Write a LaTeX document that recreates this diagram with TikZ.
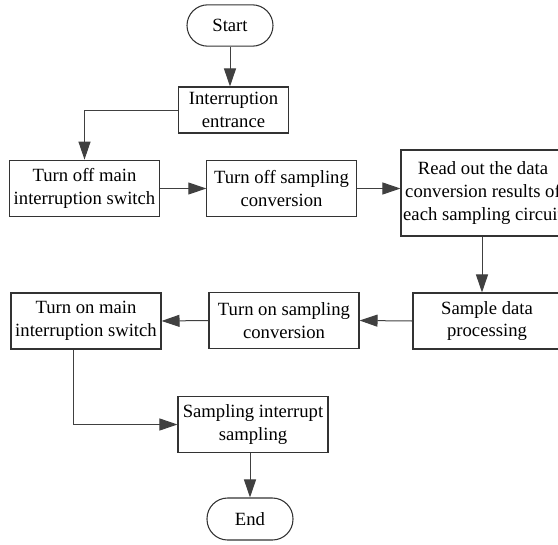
\documentclass[tikz,border=0pt]{standalone}
\usepackage{fontspec}
\setmainfont{Liberation Serif}
\usetikzlibrary{arrows.meta,calc}
\begin{document}
\begin{tikzpicture}[x=0.75pt,y=-0.75pt,
  box/.style={draw=black!80,line width=0.8pt,align=center,inner sep=0pt,
    font=\fontsize{14}{17}\selectfont},
  term/.style={box,rounded corners=15.5pt},
  conn/.style={draw=black!75,line width=0.75pt,-{Triangle[length=13.5pt,width=9pt]}}]
\useasboundingbox (0,0) rectangle (558,544);
\clip (0,0) rectangle (558,544);
\node[term,minimum width=64.5pt,minimum height=31pt] (start) at (230,25.5) {Start};
\node[box,minimum width=83pt,minimum height=34.5pt] (ie) at (233.5,110) {Interruption\\entrance};
\node[box,minimum width=112pt,minimum height=42.5pt] (offmain) at (84.5,188.5) {Turn off main\\interruption switch};
\node[box,minimum width=112pt,minimum height=42.5pt] (offsamp) at (281.5,188.5) {Turn off sampling\\conversion};
\node[box,minimum width=123pt,minimum height=64.5pt] (readout) at (483,193) {Read out the data\\conversion results of\\each sampling circuit};
\node[box,minimum width=111pt,minimum height=42pt] (sample) at (487,321) {Sample data\\processing};
\node[box,minimum width=112.5pt,minimum height=42.5pt] (onsamp) at (284,320.5) {Turn on sampling\\conversion};
\node[box,minimum width=112.5pt,minimum height=42pt] (onmain) at (86,321) {Turn on main\\interruption switch};
\node[box,minimum width=112.5pt,minimum height=42.5pt] (sint) at (253,424.5) {Sampling interrupt\\sampling};
\node[term,minimum width=64.5pt,minimum height=31.5pt] (end) at (250,519) {End};
\draw[conn] (start.south) -- (start.south |- ie.north);
\draw[conn] (ie.west) -| (offmain.north);
\draw[conn] (offmain.east) -- (offsamp.west);
\draw[conn] (offsamp.east) -- (offsamp.east -| readout.west);
\draw[conn] ([xshift=-0.75pt]readout.south) -- ([xshift=-0.75pt]readout.south |- sample.north);
\draw[conn] (sample.west) -- (onsamp.east);
\draw[conn] (onsamp.west) -- (onmain.east);
\draw[conn] ([xshift=-9.75pt]onmain.south) |- (sint.west);
\draw[conn] (end.north |- sint.south) -- (end.north);
\end{tikzpicture}
\end{document}
